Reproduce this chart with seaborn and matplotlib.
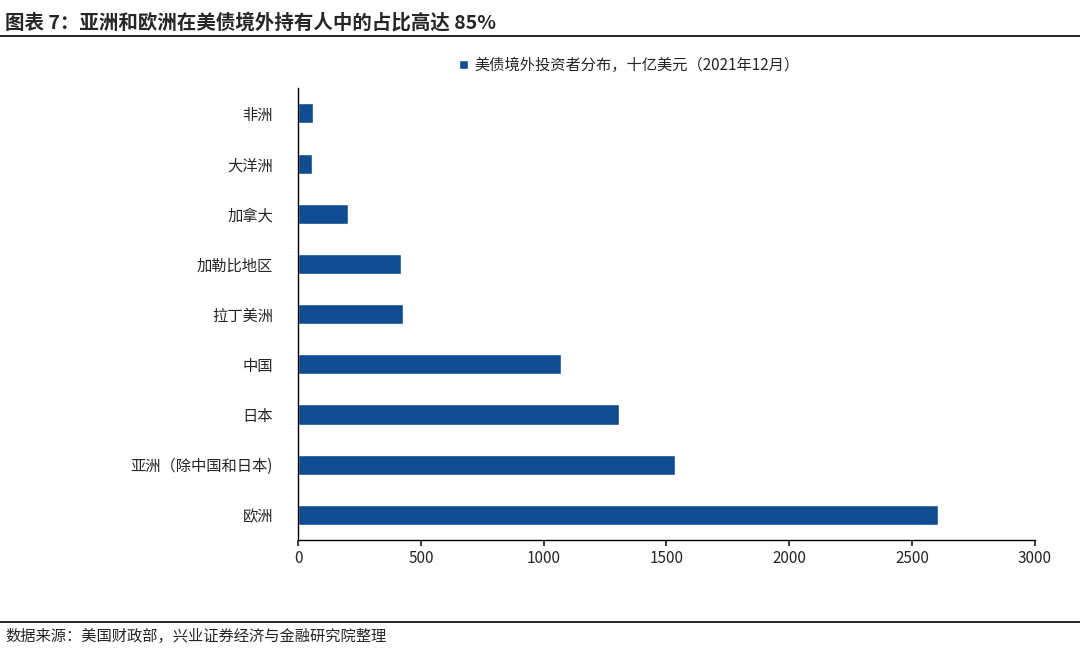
import matplotlib
matplotlib.use("Agg")
import matplotlib.pyplot as plt
import seaborn as sns
import pandas as pd

regions = ["非洲", "大洋洲", "加拿大", "加勒比地区", "拉丁美洲", "中国", "日本", "亚洲（除中国和日本)", "欧洲"]
holdings = [61, 58, 203, 419, 427, 1070, 1306, 1534, 2605]
legend_label = "美债境外投资者分布，十亿美元（2021年12月）"

sns.set_theme(style="white")
plt.rcParams['font.family'] = ['Noto Sans CJK SC', 'DejaVu Sans']

df = pd.DataFrame({"region": regions, "value": holdings})
bar_color = "#0F4C92"

fig = plt.figure(figsize=(10.8, 6.49), dpi=100)
ax = fig.add_axes([0.276, 0.168, 0.682, 0.696])
sns.barplot(data=df, x="value", y="region", color=bar_color, width=0.4, ax=ax,
            label=legend_label, saturation=1)
ax.set_xlim(0, 3000)
ax.set_xticks(range(0, 3001, 500))
ax.set_xlabel("")
ax.set_ylabel("")
ax.tick_params(axis="x", labelsize=11, length=4, bottom=True, direction="out")
ax.tick_params(axis="y", labelsize=11, length=0, pad=18)
for s in ["top", "right"]:
    ax.spines[s].set_visible(False)
for s in ["left", "bottom"]:
    ax.spines[s].set_color("black")
    ax.spines[s].set_linewidth(1)
ax.legend(loc="upper center", bbox_to_anchor=(0.45, 1.1), frameon=False, fontsize=11,
          handlelength=0.6, handleheight=0.6, handletextpad=0.4)

fig.text(0.005, 0.965, "图表 7：亚洲和欧洲在美债境外持有人中的占比高达 85%", fontsize=14,
         fontweight="bold", va="center")
fig.add_artist(plt.Line2D([0, 1], [0.945, 0.945], color="black", lw=1.2))
fig.add_artist(plt.Line2D([0, 1], [0.042, 0.042], color="black", lw=1.2))
fig.text(0.005, 0.02, "数据来源：美国财政部，兴业证券经济与金融研究院整理", fontsize=11, va="center")

fig.savefig("out.png", dpi=100)
